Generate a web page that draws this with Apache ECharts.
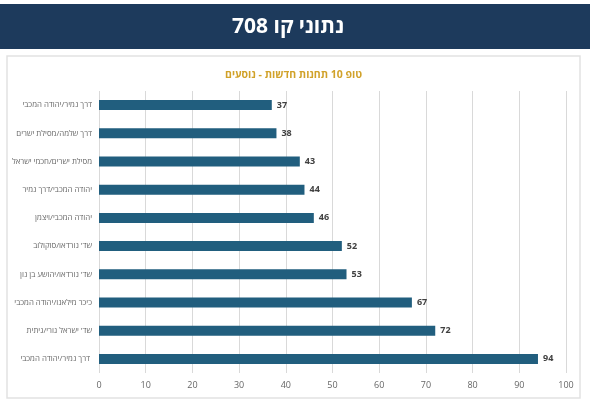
<!DOCTYPE html>
<html><head><meta charset="utf-8">
<script src="https://cdn.jsdelivr.net/npm/echarts@6/dist/echarts.min.js"></script>
<style>html,body{margin:0;padding:0;background:#fff}#c{width:590px;height:407px}</style>
</head><body><div id="c"></div>
<script>
const categories = [
  "דרך נמיר/יהודה המכבי",
  "דרך שלמה/מסילת ישרים",
  "מסילת ישרים/חכמי ישראל",
  "יהודה המכבי/דרך נמיר",
  "יהודה המכבי/ויצמן",
  "שד' נורדאו/סוקולוב",
  "שד' נורדאו/יהושע בן נון",
  "כיכר מילאנו/יהודה המכבי",
  "שד' ישראל גורי/גיתית",
  "דרך נמיר/יהודה המכבי "
];
const passengers = [37, 38, 43, 44, 46, 52, 53, 67, 72, 94];
const xTicks = { min: 0, max: 100, interval: 10 };
const mainTitle = "נתוני קו 708";
const subTitle = "טופ 10 תחנות חדשות - נוסעים";

const chart = echarts.init(document.getElementById('c'));
chart.setOption({
  animation: false,
  graphic: [
    { type: 'rect', z: -10, shape: { x: 0, y: 4, width: 590, height: 45 }, style: { fill: '#1d3a5c' } },
    { type: 'rect', z: -10, shape: { x: 7, y: 56, width: 573, height: 342 }, style: { fill: '#fff', stroke: '#e2e2e2', lineWidth: 1.5 } }
  ],
  title: [
    { text: mainTitle, left: 227, top: 12, textStyle: { color: '#fff', fontSize: 21, fontWeight: 'bold', fontFamily: 'Open Sans' } },
    { text: subTitle, left: 220, top: 65, textStyle: { color: '#d1a22a', fontSize: 10.5, fontWeight: 'bold', fontFamily: 'Open Sans' } }
  ],
  grid: { left: 99, right: 24, top: 91, bottom: 34, containLabel: false },
  xAxis: {
    type: 'value', min: xTicks.min, max: xTicks.max, interval: xTicks.interval,
    axisLine: { show: false }, axisTick: { show: false },
    axisLabel: { color: '#666', fontSize: 9, margin: 8, fontFamily: 'Open Sans' },
    splitLine: { lineStyle: { color: '#d9d9d9', width: 1 } }
  },
  yAxis: {
    type: 'category', data: categories, inverse: true,
    axisLine: { show: false }, axisTick: { show: false },
    axisLabel: { color: '#666', fontSize: 7.8, margin: 7, fontFamily: 'Open Sans' }
  },
  series: [{
    type: 'bar', data: passengers, barWidth: 10,
    itemStyle: { color: '#215e7e' },
    label: { show: true, position: 'right', distance: 5, color: '#404040', fontSize: 9, fontWeight: 'bold', fontFamily: 'Open Sans' }
  }]
});
</script></body></html>
